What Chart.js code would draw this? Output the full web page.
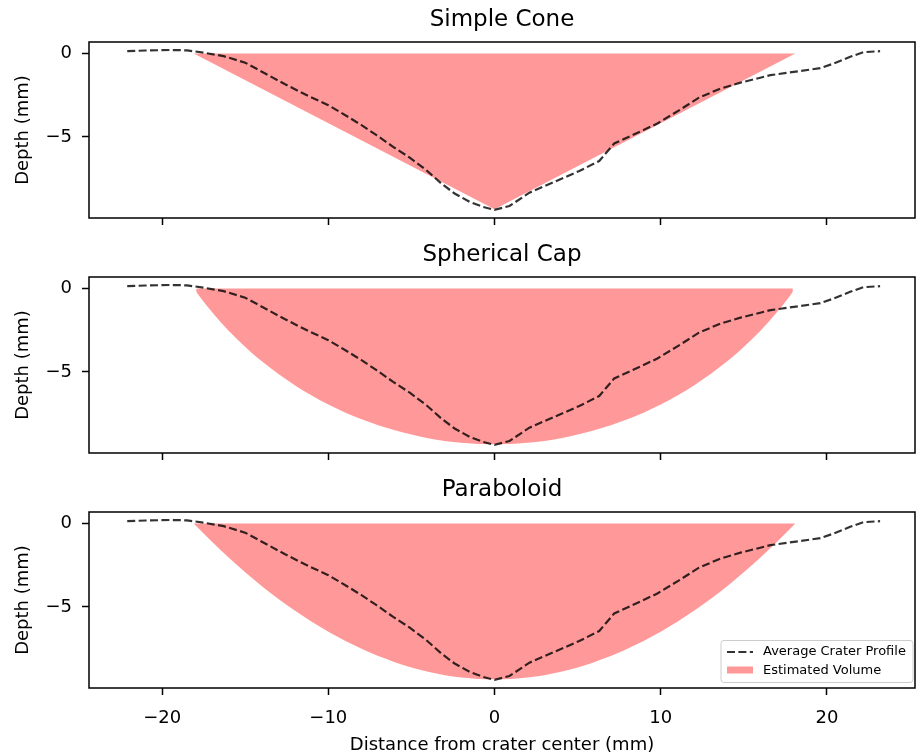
<!DOCTYPE html>
<html>
<head>
<meta charset="utf-8">
<script src="https://cdn.jsdelivr.net/npm/chart.js@4.4.1/dist/chart.umd.min.js"></script>
<style>
  body { margin: 0; background: #fff; }
  #wrap { position: relative; width: 918px; height: 756px; }
  #wrap canvas { position: absolute; left: 0; top: 0; }
</style>
</head>
<body>
<div id="wrap">
  <canvas id="cone" width="918" height="756"></canvas>
  <canvas id="cap" width="918" height="756"></canvas>
  <canvas id="para" width="918" height="756"></canvas>
</div>
<script>
// axis ticks
const xTicks = [-20, -10, 0, 10, 20];
const yTicks = [-5, 0];

// average crater profile (mm)
const profileX = [-22.1, -21.0, -19.5, -18.5, -17.5, -16.3, -15.0, -13.8, -12.6, -11.2,
  -10.0, -8.9, -8.0, -7.1, -6.1, -5.1, -4.1, -3.2, -2.4, -1.5,
  -0.7, 0.0, 0.9, 2.1, 3.6, 5.1, 6.3, 7.2, 8.3, 9.8,
  11.2, 12.3, 13.6, 14.8, 16.6, 18.4, 19.6, 20.4, 21.4, 22.2, 23.2];
const profileY = [0.14, 0.18, 0.21, 0.19, 0.05, -0.16, -0.55, -1.2, -1.85, -2.55,
  -3.1, -3.75, -4.3, -4.9, -5.6, -6.25, -7.0, -7.8, -8.4, -8.9,
  -9.2, -9.38, -9.15, -8.35, -7.7, -7.05, -6.45, -5.4, -4.9, -4.2,
  -3.35, -2.65, -2.1, -1.75, -1.3, -1.05, -0.88, -0.6, -0.2, 0.08, 0.14];

// estimated volume outlines
const coneX = [-18.1, 0, 18.1];
const coneY = [0, -9.35, 0];

const capX = [-17.95, -17.8, -17.3, -16.5, -15.5, -14, -12, -10, -8, -6, -4, -2, 0,
  2, 4, 6, 8, 10, 12, 14, 15.5, 16.5, 17.3, 17.8, 17.95];
const capY = [-0.2, -0.41, -1.05, -1.99, -3.03, -4.37, -5.82, -6.96, -7.85, -8.51, -8.98, -9.25, -9.34,
  -9.25, -8.98, -8.51, -7.85, -6.96, -5.82, -4.37, -3.03, -1.99, -1.05, -0.41, -0.2];

const paraX = [-18.1, -17, -16, -14, -12, -10, -8, -6, -4, -2, 0,
  2, 4, 6, 8, 10, 12, 14, 16, 17, 18.1];
const paraY = [0, -1.10, -2.04, -3.76, -5.24, -6.50, -7.52, -8.32, -8.89, -9.24, -9.35,
  -9.24, -8.89, -8.32, -7.52, -6.50, -5.24, -3.76, -2.04, -1.10, 0];

const FONT = "'DejaVu Sans', sans-serif";
const TITLE_BOX = 23 * 1.2 + 8.5;
const pts = (xs, ys) => xs.map((x, i) => ({ x: x, y: ys[i] }));
const minus = (v) => (v < 0 ? '\u2212' + Math.abs(v) : String(v));

const frame = {
  id: 'frame',
  afterDraw(chart) {
    const a = chart.chartArea;
    const ctx = chart.ctx;
    ctx.save();
    ctx.strokeStyle = '#000';
    ctx.lineWidth = 1.5;
    ctx.strokeRect(a.left, a.top, a.right - a.left, a.bottom - a.top);
    ctx.restore();
  },
};

const legendBox = {
  id: 'legendBox',
  afterDraw(chart) {
    const ctx = chart.ctx;
    ctx.save();
    ctx.beginPath();
    ctx.roundRect(721, 640.5, 192, 42, 3);
    ctx.fillStyle = 'rgba(255,255,255,0.8)';
    ctx.fill();
    ctx.strokeStyle = '#cccccc';
    ctx.lineWidth = 1;
    ctx.stroke();

    ctx.beginPath();
    ctx.setLineDash([8, 3.4]);
    ctx.strokeStyle = 'rgba(0,0,0,0.8)';
    ctx.lineWidth = 2.2;
    ctx.moveTo(727, 652);
    ctx.lineTo(753, 652);
    ctx.stroke();
    ctx.setLineDash([]);

    ctx.fillStyle = 'rgba(255,0,0,0.4)';
    ctx.fillRect(727, 666.5, 26, 7);

    ctx.fillStyle = '#000';
    ctx.font = '13px ' + FONT;
    ctx.textBaseline = 'middle';
    ctx.fillText('Average Crater Profile', 763, 652);
    ctx.fillText('Estimated Volume', 763, 671);
    ctx.restore();
  },
};

function makePanel(id, title, fillX, fillY, areaTop, areaBottom, bottomPanel, curved) {
  const xh = bottomPanel ? 68 : 8;
  const plugins = bottomPanel ? [frame, legendBox] : [frame];
  new Chart(document.getElementById(id), {
    type: 'line',
    data: {
      datasets: [
        {
          label: 'Average Crater Profile',
          data: pts(profileX, profileY),
          borderColor: 'rgba(0,0,0,0.8)',
          borderWidth: 2.2,
          borderDash: [8, 3.4],
          pointRadius: 0,
          tension: 0,
          fill: false,
        },
        {
          label: 'Estimated Volume',
          data: pts(fillX, fillY),
          borderColor: 'rgba(0,0,0,0)',
          borderWidth: 0,
          backgroundColor: 'rgba(255,0,0,0.4)',
          pointRadius: 0,
          cubicInterpolationMode: curved ? 'monotone' : 'default',
          tension: 0,
          fill: 'origin',
        },
      ],
    },
    options: {
      responsive: false,
      animation: false,
      devicePixelRatio: 1,
      layout: {
        autoPadding: false,
        padding: { top: areaTop - TITLE_BOX, bottom: 756 - areaBottom - xh, left: 0, right: 3 },
      },
      plugins: {
        legend: { display: false },
        tooltip: { enabled: false },
        title: {
          display: true,
          fullSize: false,
          text: title,
          color: '#000',
          font: { family: FONT, size: 23, weight: 'normal', lineHeight: 1.2 },
          padding: { top: 0, bottom: 8.5 },
        },
      },
      scales: {
        x: {
          type: 'linear',
          min: -24.4,
          max: 25.3,
          afterBuildTicks: (s) => { s.ticks = xTicks.map((v) => ({ value: v })); },
          afterFit: (s) => { s.height = xh; s.paddingLeft = 0; s.paddingRight = 0; },
          grid: { drawOnChartArea: false, tickLength: 7, tickWidth: 1.5, tickColor: '#000' },
          border: { display: false },
          ticks: {
            display: bottomPanel,
            color: '#000',
            padding: 12.5,
            maxRotation: 0,
            autoSkip: false,
            font: { family: FONT, size: 18 },
            callback: (v) => minus(v),
          },
          title: {
            display: bottomPanel,
            text: 'Distance from crater center (mm)',
            color: '#000',
            font: { family: FONT, size: 18 },
            padding: { top: 0, bottom: 0 },
          },
        },
        y: {
          type: 'linear',
          min: -9.87,
          max: 0.69,
          afterBuildTicks: (s) => { s.ticks = yTicks.map((v) => ({ value: v })); },
          afterFit: (s) => { s.width = 89; s.paddingTop = 0; s.paddingBottom = 0; },
          grid: { drawOnChartArea: false, tickLength: 7, tickWidth: 1.5, tickColor: '#000' },
          border: { display: false },
          ticks: {
            color: '#000',
            padding: 10,
            font: { family: FONT, size: 18 },
            callback: (v) => minus(v),
          },
          title: {
            display: true,
            text: 'Depth (mm)',
            color: '#000',
            font: { family: FONT, size: 18 },
            padding: { top: 13, bottom: 0 },
          },
        },
      },
    },
    plugins: plugins,
  });
}

makePanel('cone', 'Simple Cone', coneX, coneY, 42, 218, false, false);
makePanel('cap', 'Spherical Cap', capX, capY, 277, 453, false, true);
makePanel('para', 'Paraboloid', paraX, paraY, 512, 688, true, true);
</script>
</body>
</html>
